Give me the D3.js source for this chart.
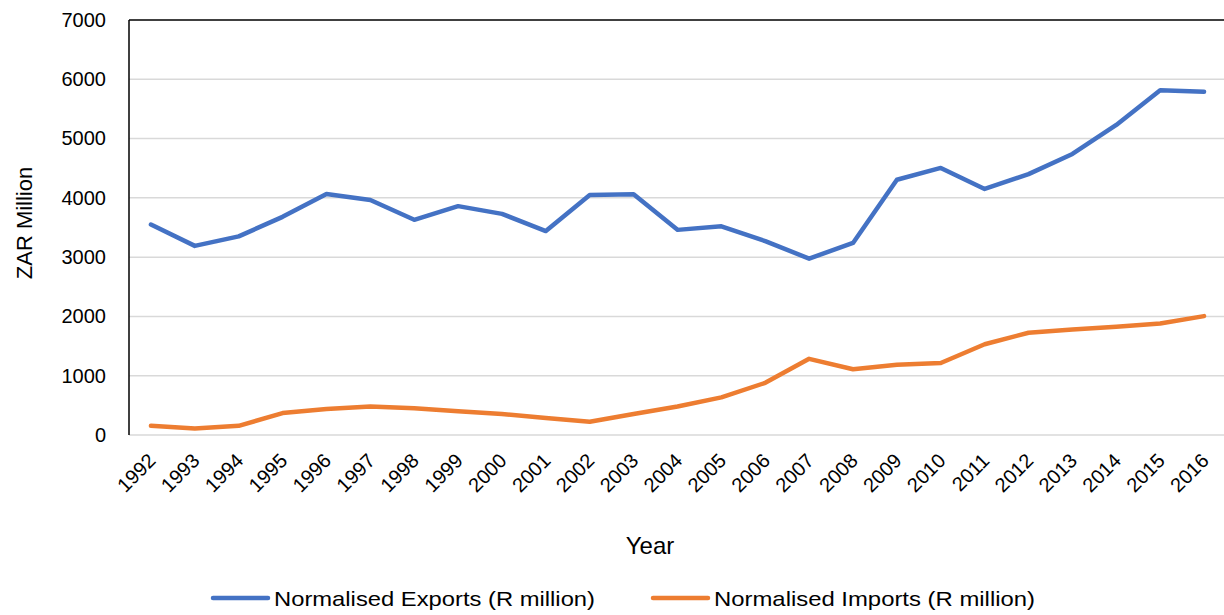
<!DOCTYPE html>
<html>
<head>
<meta charset="utf-8">
<script src="https://cdn.jsdelivr.net/npm/d3@7"></script>
<style>
  body { margin: 0; background: #fff; }
  text { font-family: "Liberation Sans", Arial, sans-serif; fill: #000; }
</style>
</head>
<body>
<div class="chart-container"></div>
<script>
var years = ['1992','1993','1994','1995','1996','1997','1998','1999','2000','2001','2002','2003',
             '2004','2005','2006','2007','2008','2009','2010','2011','2012','2013','2014','2015','2016'];
var exportsData = [3550, 3190, 3350, 3680, 4065, 3965, 3630, 3860, 3730, 3440, 4050, 4060,
                   3460, 3520, 3270, 2975, 3240, 4305, 4505, 4150, 4400, 4740, 5230, 5815, 5790];
var importsData = [155, 110, 155, 370, 440, 480, 450, 400, 355, 285, 225, 355,
                   480, 635, 880, 1285, 1110, 1185, 1215, 1530, 1725, 1780, 1825, 1880, 2005];
var yTicks = [0, 1000, 2000, 3000, 4000, 5000, 6000, 7000];
var seriesNames = ['Normalised Exports (R million)', 'Normalised Imports (R million)'];
var colors = ['#4472C4', '#ED7D31'];

var width = 1224;
var height = 615;
var margin = { left: 129, top: 20, right: -2, bottom: 180 };

var svg = d3.select('.chart-container')
  .append('svg')
  .attr('width', width)
  .attr('height', height);

var xScale = d3.scaleBand()
  .domain(years)
  .range([margin.left, width - margin.right]);

var yScale = d3.scaleLinear()
  .domain([0, 7000])
  .range([height - margin.bottom, margin.top]);

// Gridlines (top one is the black border)
svg.append('g')
  .selectAll('line')
  .data(yTicks)
  .enter()
  .append('line')
  .attr('x1', margin.left)
  .attr('x2', width)
  .attr('y1', d => yScale(d))
  .attr('y2', d => yScale(d))
  .attr('stroke', d => d === 7000 ? '#000' : '#d9d9d9')
  .attr('stroke-width', 1.5);

// Y axis labels
var yAxis = d3.axisLeft(yScale)
  .tickValues(yTicks)
  .tickFormat(d3.format('d'))
  .tickSize(0)
  .tickPadding(23);
svg.append('g')
  .attr('transform', 'translate(' + margin.left + ',0)')
  .call(yAxis)
  .call(g => g.select('.domain').remove())
  .selectAll('text')
  .style('font-size', '20px')
  .style('font-family', '"Liberation Sans", Arial, sans-serif');

// Left axis line
svg.append('line')
  .attr('x1', margin.left)
  .attr('x2', margin.left)
  .attr('y1', yScale(7000))
  .attr('y2', yScale(0))
  .attr('stroke', '#000')
  .attr('stroke-width', 1.5);

// X axis labels
var xAxis = d3.axisBottom(xScale).tickSize(0).tickPadding(0);
svg.append('g')
  .attr('transform', 'translate(0,' + yScale(0) + ')')
  .call(xAxis)
  .call(g => g.select('.domain').remove())
  .selectAll('text')
  .style('font-size', '20px')
  .style('font-family', '"Liberation Sans", Arial, sans-serif')
  .attr('text-anchor', 'end')
  .attr('dy', null)
  .attr('y', 0)
  .attr('transform', 'translate(6,27) rotate(-45)');

// Lines
var line = d3.line()
  .x((d, i) => xScale(years[i]) + xScale.bandwidth() / 2)
  .y(d => yScale(d));

[exportsData, importsData].forEach(function (series, k) {
  svg.append('path')
    .datum(series)
    .attr('d', line)
    .attr('fill', 'none')
    .attr('stroke', colors[k])
    .attr('stroke-width', 4.5)
    .attr('stroke-linejoin', 'round')
    .attr('stroke-linecap', 'round');
});

// Axis titles
svg.append('text')
  .attr('x', 650)
  .attr('y', 554)
  .attr('text-anchor', 'middle')
  .style('font-size', '24px')
  .text('Year');

svg.append('text')
  .attr('transform', 'translate(32,223) rotate(-90)')
  .attr('text-anchor', 'middle')
  .style('font-size', '22px')
  .text('ZAR Million');

// Legend
var legendX = [213, 653];
seriesNames.forEach(function (name, k) {
  var g = svg.append('g').attr('transform', 'translate(' + legendX[k] + ',598)');
  g.append('line')
    .attr('x1', 0).attr('x2', 55)
    .attr('y1', 0).attr('y2', 0)
    .attr('stroke', colors[k])
    .attr('stroke-width', 4.5)
    .attr('stroke-linecap', 'round');
  g.append('text')
    .attr('x', 61)
    .attr('y', 8)
    .attr('textLength', 321)
    .attr('lengthAdjust', 'spacingAndGlyphs')
    .style('font-size', '21px')
    .text(name);
});
</script>
</body>
</html>
